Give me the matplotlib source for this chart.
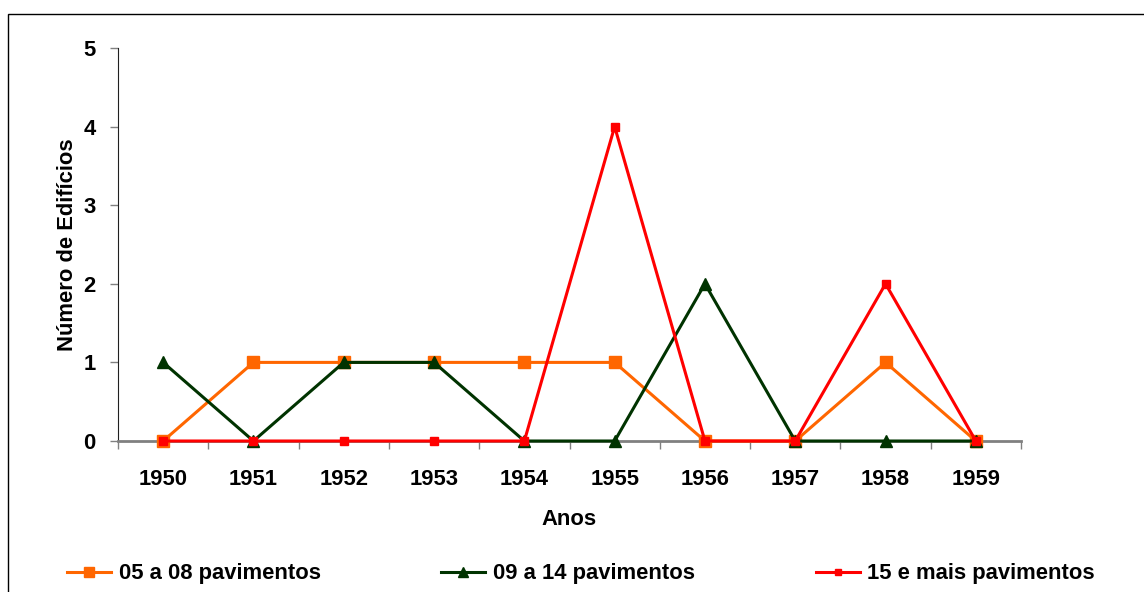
import matplotlib.pyplot as plt
from matplotlib.patches import Rectangle

anos = ['1950', '1951', '1952', '1953', '1954', '1955', '1956', '1957', '1958', '1959']
pav_05_08 = [0, 1, 1, 1, 1, 1, 0, 0, 1, 0]
pav_09_14 = [1, 0, 1, 1, 0, 0, 2, 0, 0, 0]
pav_15_mais = [0, 0, 0, 0, 0, 4, 0, 0, 2, 0]

plt.rcParams['font.family'] = ['Liberation Sans', 'DejaVu Sans']
plt.rcParams['font.weight'] = 'bold'
fs = 15.8

fig = plt.figure(figsize=(11.44, 5.92), dpi=100)
ax = fig.add_axes([118/1144, 1-441/592, (1021-118)/1144, (441-48)/592])

x = range(len(anos))
ax.plot(x, pav_05_08, color='#FF6600', lw=2.2, marker='s', ms=8,
        label='05 a 08 pavimentos', clip_on=False, zorder=3)
ax.plot(x, pav_09_14, color='#003300', lw=2.2, marker='^', ms=8.5,
        label='09 a 14 pavimentos', clip_on=False, zorder=4)
ax.plot(x, pav_15_mais, color='#FF0000', lw=2.2, marker='s', ms=5.5,
        label='15 e mais pavimentos', clip_on=False, zorder=5)

ax.set_xlim(-0.5, len(anos)-0.5)
ax.set_ylim(0, 5)
ax.set_yticks(range(6))
ax.set_xticks(list(x))
ax.set_xticklabels(anos)
ax.set_xticks([i-0.5 for i in range(len(anos)+1)], minor=True)
ax.tick_params(axis='x', which='major', length=0, pad=20, labelsize=fs)
ax.tick_params(axis='x', which='minor', length=6, color='#808080', width=1)
ax.tick_params(axis='y', length=6, color='#808080', width=1, pad=10, labelsize=fs)

for s in ['top', 'right']:
    ax.spines[s].set_visible(False)
ax.spines['left'].set_color('#202020')
ax.spines['bottom'].set_color('#808080')
ax.spines['bottom'].set_linewidth(2)

ax.set_xlabel('Anos', fontsize=fs, fontweight='bold', labelpad=14)
ax.set_ylabel('Número de Edifícios', fontsize=fs, fontweight='bold', labelpad=4)

fig.legend(loc='center', bbox_to_anchor=(581/1144, 1-574/592), ncol=3,
           frameon=False, fontsize=fs, handlelength=2.0, handletextpad=0.35,
           columnspacing=5.5, markerscale=0.85)

fig.patches.append(Rectangle((8/1144, -0.1), 2, 1.1-14/592, transform=fig.transFigure,
                             fill=False, edgecolor='black', lw=1))

fig.savefig('out.png', dpi=100)
